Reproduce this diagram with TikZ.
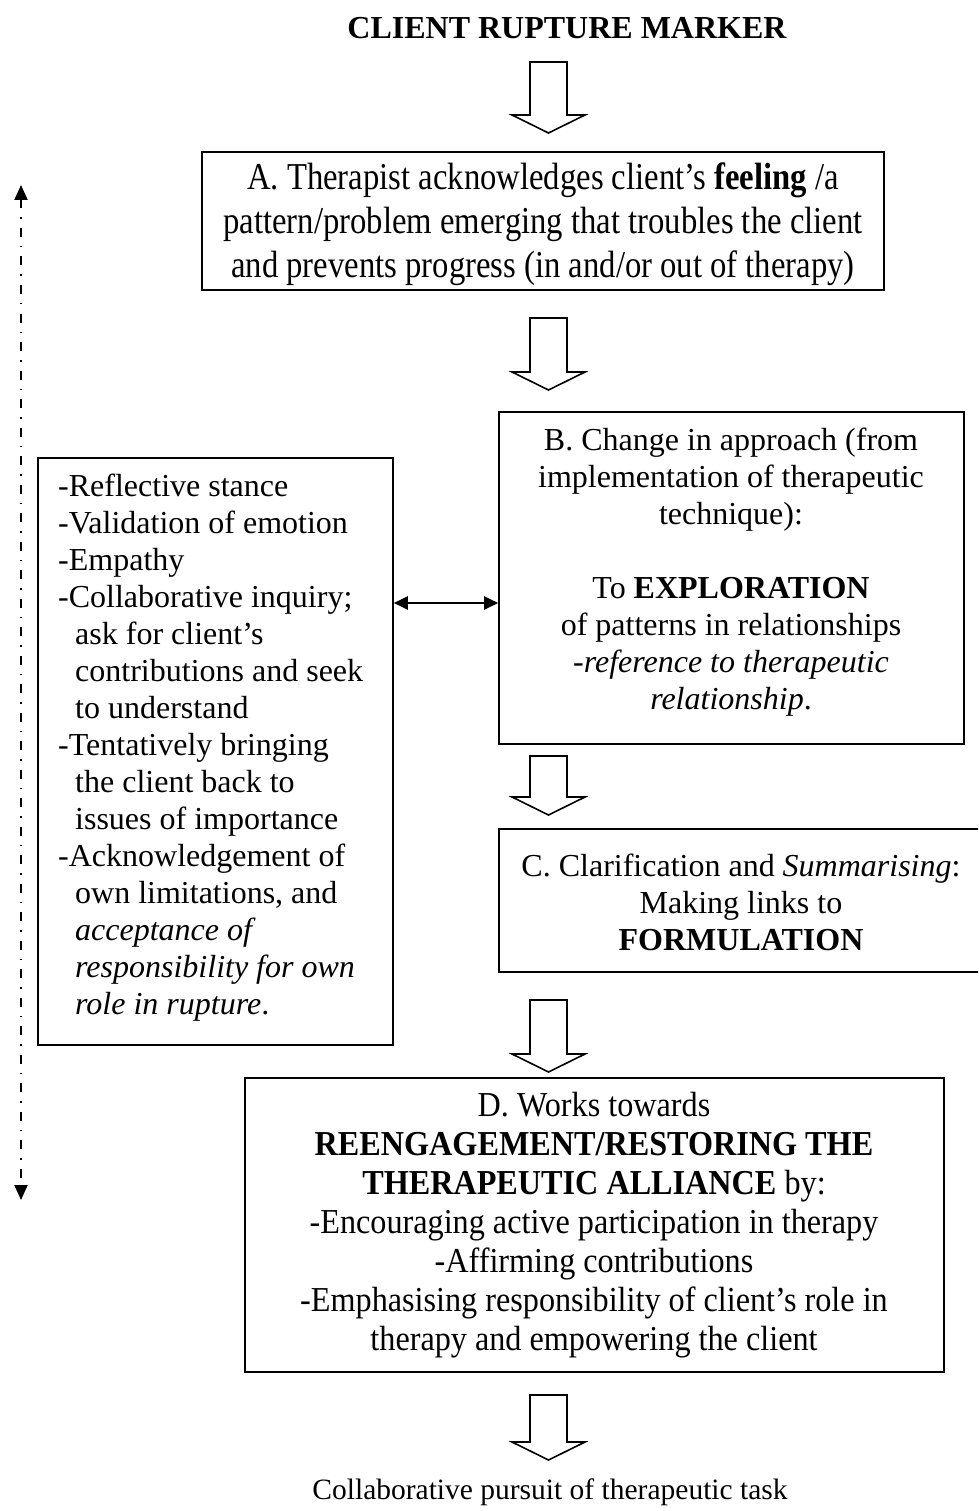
\documentclass[tikz,border=0pt]{standalone}
\usepackage{fontspec}
\setmainfont{Liberation Serif}
\newfontfamily\condAfont[Ligatures=TeX,FakeStretch=0.86]{Liberation Serif}
\newfontfamily\condDfont[Ligatures=TeX,FakeStretch=0.92]{Liberation Serif}
\usetikzlibrary{arrows.meta,fit}
\tikzset{
  box/.style={draw, line width=1.6pt, inner sep=0pt},
  txt/.style={inner sep=0pt, align=center, font=\fontsize{32}{37}\selectfont},
  blk/.style={draw, line width=1.6pt, fill=white, line join=miter},
}
\newcommand\blockdown[4]{% name, x, top, tip
  \coordinate (#1) at (#2,-#3);
  \draw[blk] (#2-18.5,-#3) -- (#2+18.5,-#3) -- (#2+18.5,-#4+18) -- (#2+36.5,-#4+18)
     -- (#2,-#4) -- (#2-36.5,-#4+18) -- (#2-18.5,-#4+18) -- cycle;}
\begin{document}
\begin{tikzpicture}[x=1pt,y=1pt]
\useasboundingbox (0,0) rectangle (978,-1511);
\clip (0,0) rectangle (978,-1511);
% title
\node[txt, font=\bfseries\fontsize{32}{37}\selectfont] (title) at (567,-28) {CLIENT RUPTURE MARKER};
\blockdown{arr1}{548.5}{62}{133}
% box A
\path (202,-152) coordinate (Anw) (884,-290) coordinate (Ase);
\node[box, fit={(Anw)(Ase)}] (A) {};
\node[txt, font=\condAfont\fontsize{38}{44}\selectfont] (Atext) at (543,-224) {A. Therapist acknowledges client’s \textbf{feeling} /a\\pattern/problem emerging that troubles the client\\and prevents progress (in and/or out of therapy)};
\blockdown{arr2}{548.5}{318}{390}
% box B
\path (499,-412) coordinate (Bnw) (964,-744) coordinate (Bse);
\node[box, fit={(Bnw)(Bse)}] (B) {};
\node[txt] (Btext) at (731,-572) {B. Change in approach (from\\implementation of therapeutic\\technique):\\[37pt]To \textbf{EXPLORATION}\\of patterns in relationships\\\textit{-reference to therapeutic}\\\textit{relationship}.};
% left box
\path (38,-458) coordinate (Lnw) (393,-1045) coordinate (Lse);
\node[box, fit={(Lnw)(Lse)}] (L) {};
\node[txt, align=left, anchor=north west] (Ltext) at (58,-474) {-Reflective stance\\-Validation of emotion\\-Empathy\\-Collaborative inquiry;\\\hspace*{17pt}ask for client’s\\\hspace*{17pt}contributions and seek\\\hspace*{17pt}to understand\\-Tentatively bringing\\\hspace*{17pt}the client back to\\\hspace*{17pt}issues of importance\\-Acknowledgement of\\\hspace*{17pt}own limitations, and\\\hspace*{17pt}\textit{acceptance of}\\\hspace*{17pt}\textit{responsibility for own}\\\hspace*{17pt}\textit{role in rupture}.};
% double arrow
\draw[line width=2.2pt, {Triangle[length=14pt,width=13pt]}-{Triangle[length=14pt,width=13pt]}] (L.east |- 0,-603) -- (B.west |- 0,-603);
\blockdown{arr3}{548.5}{756}{815}
% box C
\path (499,-829) coordinate (Cnw) (983,-972) coordinate (Cse);
\node[box, fit={(Cnw)(Cse)}] (C) {};
\node[txt] (Ctext) at (741,-902) {C. Clarification and \textit{Summarising}:\\Making links to\\\textbf{FORMULATION}};
\blockdown{arr4}{548.5}{1000}{1072}
% box D
\path (245,-1078) coordinate (Dnw) (944,-1372) coordinate (Dse);
\node[box, fit={(Dnw)(Dse)}] (D) {};
\node[txt, font=\condDfont\fontsize{35}{39}\selectfont] (Dtext) at (594,-1225) {D. Works towards\\\textbf{REENGAGEMENT/RESTORING THE}\\\textbf{THERAPEUTIC ALLIANCE} by:\\-Encouraging active participation in therapy\\-Affirming contributions\\-Emphasising responsibility of client’s role in\\therapy and empowering the client};
\blockdown{arr5}{548.5}{1395}{1460}
\node[txt, font=\fontsize{29.5}{37}\selectfont] (final) at (550,-1492) {Collaborative pursuit of therapeutic task};
% dash-dot timeline
\coordinate (ttop) at (21,-185);
\coordinate (tbot) at (21,-1200);
\draw[line width=2pt, dash pattern=on 9pt off 9pt on 1.5pt off 9pt, {Triangle[length=15pt,width=13pt]}-{Triangle[length=15pt,width=13pt]}] (ttop) -- (tbot);
\end{tikzpicture}
\end{document}
